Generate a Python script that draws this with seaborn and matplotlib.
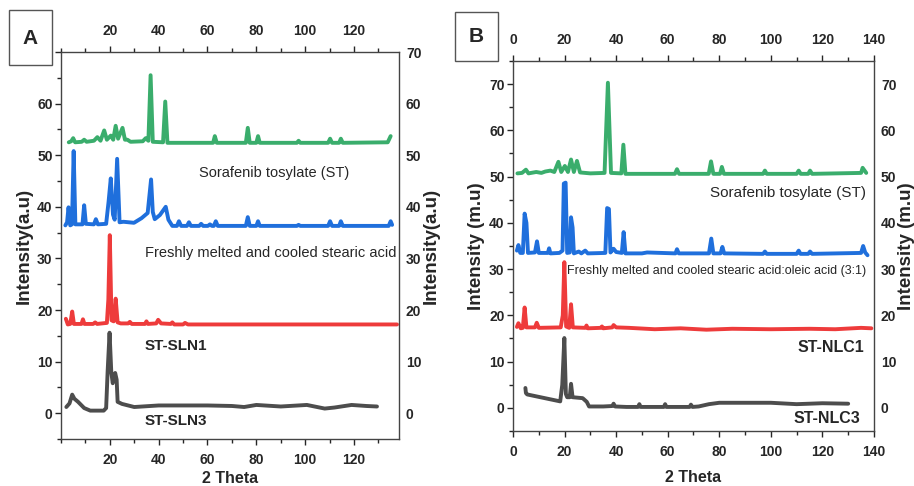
import numpy as np
import pandas as pd
import matplotlib
matplotlib.use("Agg")
import matplotlib.pyplot as plt
import seaborn as sns
from matplotlib.ticker import MultipleLocator

# ---------------- Panel A (SLN) ----------------
st_a_x = [3.2, 4.2, 5.0, 5.8, 8.5, 9.5, 10.5, 13.5, 14.9, 16.2, 17.7, 18.8, 20.4, 21.4, 22.4, 23.4,
          25.2, 26.2, 27.2, 28.5, 33.5, 34.7, 35.8, 36.7, 37.6, 41.8, 42.7, 43.6, 62.3, 63.0, 63.8,
          75.7, 76.5, 77.3, 80.0, 80.7, 81.4, 96.6, 97.3, 98.0, 109.4, 110.2, 111.0, 113.9, 114.6,
          115.4, 133.8, 135.0]
st_a_y = [52.5, 52.7, 53.3, 52.5, 52.6, 53.0, 52.6, 52.8, 53.5, 52.8, 54.8, 53.0, 53.8, 53.0, 55.7, 53.2,
          55.3, 53.0, 53.0, 52.6, 52.7, 53.3, 52.8, 65.5, 52.6, 52.5, 60.4, 52.4, 52.4, 53.7, 52.4,
          52.4, 55.3, 52.4, 52.4, 53.7, 52.4, 52.4, 52.8, 52.4, 52.4, 53.2, 52.4, 52.4, 53.2,
          52.4, 52.5, 53.7]

sa_a_x = [1.8, 2.5, 3.1, 3.8, 4.5, 5.2, 5.9, 8.8, 9.5, 10.2, 13.5, 14.3, 15.1, 18.5, 19.5, 20.4, 21.3,
          22.0, 23.0, 24.0, 25.6, 29.9, 33.0, 35.5, 36.9, 37.6, 38.4, 40.5, 42.9, 44.0, 45.6, 47.5,
          48.3, 49.2, 51.6, 52.4, 53.2, 56.6, 57.4, 58.2, 60.2, 61.0, 61.8, 62.6, 63.4, 64.2, 75.7,
          76.5, 77.3, 80.0, 80.7, 81.4, 96.6, 97.3, 98.0, 109.4, 110.2, 111.0, 113.9, 114.6, 115.4,
          134.2, 135.0, 135.6]
sa_a_y = [36.4, 37.0, 39.9, 36.4, 36.6, 50.8, 36.6, 36.6, 40.3, 36.7, 36.6, 37.6, 36.6, 36.7, 41.0, 45.5, 38.5,
          37.5, 49.3, 37.0, 37.1, 36.9, 37.8, 38.8, 45.3, 39.0, 37.6, 38.4, 40.0, 37.5, 36.3, 36.3,
          37.2, 36.3, 36.3, 37.0, 36.3, 36.3, 36.7, 36.3, 36.3, 36.6, 36.3, 36.3, 37.2, 36.3, 36.3,
          38.0, 36.3, 36.3, 37.2, 36.3, 36.3, 36.5, 36.3, 36.3, 37.2, 36.3, 36.3, 37.2, 36.3,
          36.3, 37.2, 36.5]

sln1_x = [2.0, 2.8, 3.8, 4.6, 5.3, 8.4, 9.0, 9.6, 13.2, 14.0, 14.8, 18.8, 19.4, 20.0, 20.7, 21.6, 22.4,
          23.2, 24.5, 27.5, 28.2, 29.0, 34.4, 35.0, 35.6, 39.0, 39.8, 41.0, 45.0, 45.6, 46.4, 50.0,
          50.8, 52.0, 137.6]
sln1_y = [18.3, 17.2, 17.3, 19.7, 17.3, 17.3, 18.2, 17.3, 17.3, 17.6, 17.3, 17.5, 22.0, 34.5, 18.0, 17.8, 22.2,
          17.6, 17.4, 17.4, 17.7, 17.3, 17.3, 17.8, 17.3, 17.4, 18.1, 17.4, 17.3, 17.6, 17.2, 17.2,
          17.5, 17.2, 17.2]

sln3_x = [2.2, 3.5, 4.6, 5.5, 7.0, 9.5, 12.0, 17.5, 18.5, 19.1, 19.9, 20.6, 21.2, 22.2, 22.8, 23.2,
          25.0, 30.0, 40.0, 60.0, 70.0, 75.0, 80.0, 90.0, 100.7, 108.0, 112.0, 119.0, 125.0, 129.4]
sln3_y = [1.2, 1.9, 3.6, 2.8, 2.2, 1.0, 0.5, 0.5, 1.0, 8.0, 15.6, 8.0, 5.8, 7.8, 6.5, 2.2,
          1.8, 1.2, 1.5, 1.5, 1.4, 1.2, 1.6, 1.3, 1.6, 0.9, 1.1, 1.6, 1.4, 1.3]

# ---------------- Panel B (NLC) ----------------
st_b_x = [1.7, 3.5, 5.0, 6.0, 9.0, 11.0, 12.5, 14.5, 16.0, 17.6, 18.7, 20.1, 21.3, 22.5, 23.6, 24.8,
          26.0, 28.0, 30.0, 35.5, 36.8, 38.0, 42.0, 42.8, 43.6, 62.8, 63.6, 64.4, 75.9, 76.8, 77.7,
          80.3, 81.0, 81.8, 97.0, 97.7, 98.4, 110.0, 110.8, 111.6, 114.5, 115.2, 116.0, 135.0,
          135.6, 137.0]
st_b_y = [50.7, 50.8, 51.5, 50.7, 51.0, 50.8, 51.1, 51.3, 51.0, 53.2, 51.0, 52.3, 51.0, 53.7, 51.0, 53.4,
          50.9, 50.8, 50.7, 50.8, 70.3, 50.8, 50.7, 56.9, 50.6, 50.6, 51.6, 50.6, 50.6, 53.3, 50.6,
          50.6, 52.1, 50.6, 50.6, 51.3, 50.6, 50.6, 51.3, 50.6, 50.6, 51.3, 50.6, 50.8,
          51.9, 50.8]

sa_b_x = [1.5, 2.1, 2.8, 3.8, 4.5, 5.2, 5.8, 8.5, 9.3, 10.0, 13.5, 14.0, 14.5, 18.0, 19.2, 19.7, 20.4,
          21.0, 22.0, 22.5, 23.1, 23.6, 25.5, 26.5, 28.0, 29.0, 35.8, 36.5, 37.2, 37.8, 39.0, 40.0,
          42.2, 42.9, 43.6, 50.0, 52.0, 63.0, 63.6, 64.3, 76.0, 76.9, 77.7, 80.5, 81.2, 81.9, 97.0,
          97.7, 98.4, 110.0, 110.8, 111.5, 114.5, 115.2, 116.0, 135.0, 135.8, 136.6, 137.5]
sa_b_y = [34.0, 35.2, 33.5, 33.5, 42.0, 40.0, 33.5, 33.6, 36.0, 33.5, 33.5, 34.5, 33.4, 33.5, 34.0, 48.5, 48.7,
          33.5, 33.6, 41.2, 39.0, 33.4, 33.8, 33.4, 34.0, 33.4, 33.5, 43.2, 43.0, 33.6, 34.4, 33.7,
          33.5, 38.0, 33.4, 33.4, 33.6, 33.4, 34.3, 33.4, 33.4, 36.6, 33.4, 33.4, 34.8, 33.4, 33.3,
          33.8, 33.3, 33.3, 34.0, 33.3, 33.3, 33.8, 33.3, 33.5, 35.0, 33.6, 33.0]

nlc1_x = [1.5, 2.1, 3.0, 3.8, 4.5, 5.2, 8.5, 9.2, 10.0, 18.5, 19.3, 19.9, 20.6, 21.8, 22.5, 23.2,
          28.0, 28.5, 29.0, 34.0, 34.5, 35.0, 38.5, 39.0, 40.0, 45.0, 55.0, 65.0, 75.0, 85.0, 100.0,
          115.0, 125.0, 135.0, 139.0]
nlc1_y = [17.5, 18.3, 17.2, 17.3, 21.7, 17.4, 17.4, 18.4, 17.3, 17.4, 20.0, 31.5, 17.6, 17.3, 22.4, 17.4,
          17.3, 17.8, 17.2, 17.3, 17.6, 17.2, 17.4, 17.9, 17.4, 17.3, 17.0, 17.2, 16.9, 17.1, 17.0,
          17.1, 17.0, 17.3, 17.2]

nlc3_x = [4.8, 5.0, 5.5, 18.3, 19.1, 19.9, 20.5, 21.0, 22.0, 22.5, 23.1, 27.0, 28.6, 29.5, 35.0, 38.5,
          39.0, 39.6, 44.0, 48.5, 49.0, 49.5, 58.5, 59.0, 59.5, 68.5, 69.0, 69.6, 72.0, 76.0, 80.0,
          100.0, 110.0, 120.0, 130.0]
nlc3_y = [4.3, 3.2, 2.9, 1.4, 5.0, 15.1, 3.0, 2.3, 2.3, 5.2, 2.3, 2.1, 1.3, 0.3, 0.3, 0.4,
          0.9, 0.3, 0.2, 0.2, 0.8, 0.2, 0.2, 0.8, 0.2, 0.2, 0.7, 0.2, 0.3, 0.8, 1.1,
          1.1, 0.8, 1.0, 0.9]

colors = {"st": "#3aad6c", "sa": "#1f6fdc", "c1": "#ee3b3b", "c3": "#4d4d4d"}

sns.set_style("ticks")
plt.rcParams["font.family"] = ["Liberation Sans", "DejaVu Sans"]

fig = plt.figure(figsize=(9.14, 4.86), dpi=100)


def draw_panel(ax, series, xlim, ylim, ylab, xlabpad):
    for x, y, c in series:
        df = pd.DataFrame({"x": x, "y": y})
        sns.lineplot(data=df, x="x", y="y", ax=ax, color=c, linewidth=2.8,
                     estimator=None, sort=False)
    ax.set_xlim(*xlim)
    ax.set_ylim(*ylim)
    ax.xaxis.set_major_locator(MultipleLocator(20))
    ax.xaxis.set_minor_locator(MultipleLocator(10))
    ax.yaxis.set_major_locator(MultipleLocator(10))
    ax.yaxis.set_minor_locator(MultipleLocator(5))
    ax.tick_params(axis="x", which="both", direction="out", top=True, labeltop=True,
                   bottom=True, labelbottom=True, labelsize=10, pad=6)
    ax.tick_params(axis="x", which="major", length=4, width=1)
    ax.tick_params(axis="x", which="minor", length=3, width=1)
    ax.tick_params(axis="y", which="major", direction="out", length=4, width=1, labelsize=10, pad=2)
    ax.tick_params(axis="y", which="minor", direction="out", length=3, width=1)
    for sp in ax.spines.values():
        sp.set_color("#444444")
        sp.set_linewidth(1.0)
    ax.set_xlabel("2 Theta", fontsize=11.5, fontweight="bold", labelpad=xlabpad)
    ax.set_ylabel(ylab, fontsize=13.5, fontweight="bold", labelpad=3)

    axr = ax.twinx()
    axr.set_ylim(*ylim)
    axr.set_yticks([0, 10, 20, 30, 40, 50, 60, 70])
    axr.tick_params(axis="y", which="both", length=0, labelsize=10, pad=5)
    axr.set_ylabel(ylab, fontsize=13.5, fontweight="bold", rotation=90, labelpad=1)
    for sp in axr.spines.values():
        sp.set_visible(False)
    for lab in (ax.get_xticklabels() + ax.get_yticklabels() + axr.get_yticklabels()
                + ax.xaxis.get_ticklabels(which="both")):
        lab.set_fontweight("bold")
    return axr


# Panel A
axA = fig.add_axes([0.0667, 0.0967, 0.3698, 0.7963])
draw_panel(axA,
           [(st_a_x, st_a_y, colors["st"]), (sa_a_x, sa_a_y, colors["sa"]),
            (sln1_x, sln1_y, colors["c1"]), (sln3_x, sln3_y, colors["c3"])],
           (0, 138.4), (-5, 70), "Intensity(a.u)", 3)
axA.set_xticks([20, 40, 60, 80, 100, 120])
for lab in axA.xaxis.get_ticklabels():
    lab.set_fontweight("bold")
axA.text(87.3, 46.6, "Sorafenib tosylate (ST)", ha="center", va="center", fontsize=10.5)
axA.text(86, 31.1, "Freshly melted and cooled stearic acid", ha="center", va="center", fontsize=10.5)
axA.text(46.9, 13.1, "ST-SLN1", ha="center", va="center", fontsize=11, fontweight="bold")
axA.text(46.9, -1.5, "ST-SLN3", ha="center", va="center", fontsize=11, fontweight="bold")

# Panel B
axB = fig.add_axes([0.5613, 0.1132, 0.3949, 0.7613])
draw_panel(axB,
           [(st_b_x, st_b_y, colors["st"]), (sa_b_x, sa_b_y, colors["sa"]),
            (nlc1_x, nlc1_y, colors["c1"]), (nlc3_x, nlc3_y, colors["c3"])],
           (0, 140), (-5, 75), "Intensity (m.u)", 8)
axB.text(106.6, 46.4, "Sorafenib tosylate (ST)", ha="center", va="center", fontsize=11)
axB.text(78.8, 29.6, "Freshly melted and cooled stearic acid:oleic acid (3:1)", ha="center",
         va="center", fontsize=9)
axB.text(123.1, 13.1, "ST-NLC1", ha="center", va="center", fontsize=11.5, fontweight="bold")
axB.text(121.8, -2.2, "ST-NLC3", ha="center", va="center", fontsize=11.5, fontweight="bold")

# panel letters
boxA = plt.Rectangle((9 / 914, 1 - 65 / 486), 43 / 914, 55 / 486, transform=fig.transFigure,
                     facecolor="white", edgecolor="#555555", linewidth=1.0, zorder=10)
boxB = plt.Rectangle((455 / 914, 1 - 61 / 486), 43 / 914, 49 / 486, transform=fig.transFigure,
                     facecolor="white", edgecolor="#555555", linewidth=1.0, zorder=10)
fig.add_artist(boxA)
fig.add_artist(boxB)
fig.text(30.5 / 914, 1 - 38 / 486, "A", ha="center", va="center", fontsize=15,
         fontweight="bold", zorder=11)
fig.text(476.5 / 914, 1 - 37 / 486, "B", ha="center", va="center", fontsize=15,
         fontweight="bold", zorder=11)

fig.savefig("out.png", dpi=100)
